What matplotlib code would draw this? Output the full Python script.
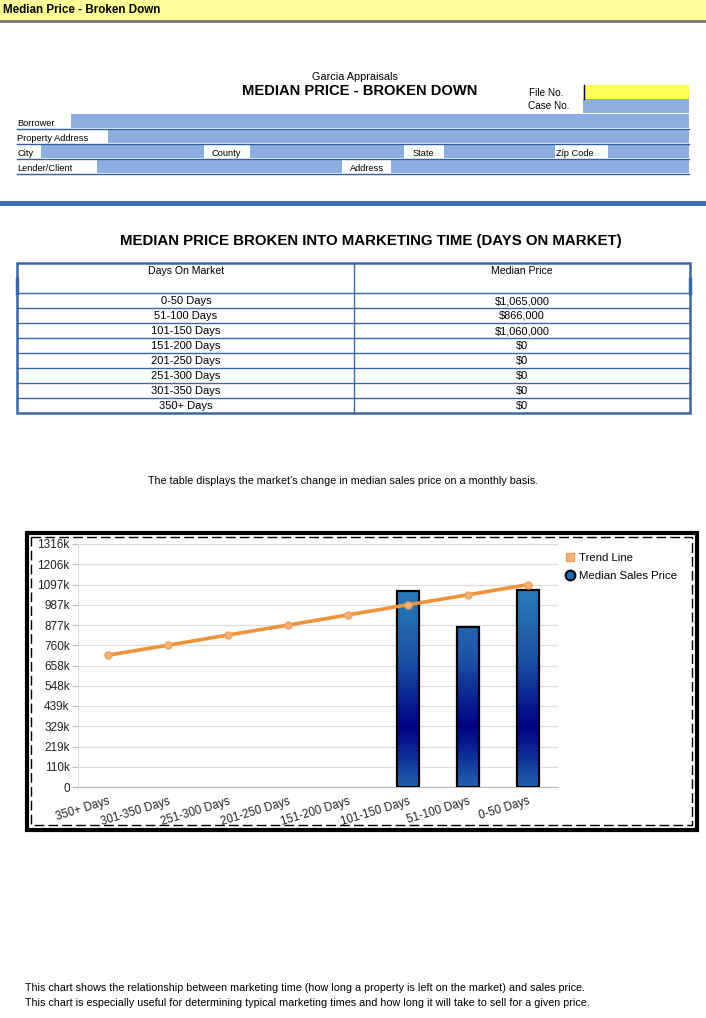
import matplotlib
matplotlib.use('Agg')
import matplotlib.pyplot as plt
import numpy as np
from matplotlib.colors import LinearSegmentedColormap
from matplotlib.patches import Rectangle
from matplotlib.lines import Line2D

plt.rcParams['font.family'] = ['Liberation Sans', 'DejaVu Sans']

# ---- data ----
table_days = ['0-50 Days', '51-100 Days', '101-150 Days', '151-200 Days',
              '201-250 Days', '251-300 Days', '301-350 Days', '350+ Days']
table_price = [1065000, 866000, 1060000, 0, 0, 0, 0, 0]

# chart runs from longest to shortest marketing time
chart_days = table_days[::-1]
chart_price = table_price[::-1]
trend_line = [714000, 768000, 823000, 877000, 932000, 987000, 1041000, 1096000]

y_tick_labels = ['0', '110k', '219k', '329k', '439k', '548k', '658k',
                 '760k', '877k', '987k', '1097k', '1206k', '1316k']
y_max = 1316000

W, H = 706, 1018
BLUE_FILL = '#8cafe0'
LINE_BLUE = '#2f5f9f'

fig = plt.figure(figsize=(W / 100, H / 100), dpi=100)
page = fig.add_axes([0, 0, 1, 1])
page.set_xlim(0, W)
page.set_ylim(H, 0)
page.set_axis_off()


def box(x0, y0, x1, y1, **kw):
    page.add_patch(Rectangle((x0, y0), x1 - x0, y1 - y0, **kw))


# header banner
box(0, 0, W, 20, color='#ffff99', lw=0)
page.plot([0, W], [21, 21], color='#777777', lw=2)
page.text(3, 10, 'Median Price - Broken Down', fontsize=8.4, fontweight='bold',
          va='center', ha='left')

# title block
page.text(355, 77, 'Garcia Appraisals', fontsize=7.8, ha='center', va='center')
page.text(360, 91, 'MEDIAN PRICE - BROKEN DOWN', fontsize=10.6, fontweight='bold',
          ha='center', va='center')
page.text(529, 93, 'File No.', fontsize=7.2, ha='left', va='center')
page.text(528, 106, 'Case No.', fontsize=7.2, ha='left', va='center')
box(583, 85, 689, 99, color='#ffff55', lw=0)
page.plot([583.5, 583.5], [85, 99], color='#000066', lw=1)
box(583, 99, 689, 113, color=BLUE_FILL, lw=0)

# form rows: (label, fill_start, fill_end)
form_rows = [
    [('Borrower', 71, 689)],
    [('Property Address', 108, 689)],
    [('City', 41, 204), ('County', 250, 404), ('State', 444, 555), ('Zip Code', 608, 689)],
    [('Lender/Client', 97, 342), ('Address', 391, 689)],
]
label_x = {'Borrower': 17, 'Property Address': 17, 'City': 17, 'County': 211,
           'State': 413, 'Zip Code': 556, 'Lender/Client': 17, 'Address': 350}
row_top = 114
for row in form_rows:
    for label, fx0, fx1 in row:
        box(fx0, row_top, fx1, row_top + 14, color=BLUE_FILL, lw=0)
        page.text(label_x[label], row_top + 9.5, label, fontsize=6.7,
                  ha='left', va='center')
    page.plot([17, 689], [row_top + 14.5, row_top + 14.5], color=LINE_BLUE, lw=1)
    row_top += 15

page.plot([0, W], [203, 203], color='#3a6db5', lw=3.5)

# table section
page.text(371, 241, 'MEDIAN PRICE BROKEN INTO MARKETING TIME (DAYS ON MARKET)',
          fontsize=10.8, fontweight='bold', ha='center', va='center')
tx0, tx1, tmid = 17, 690, 354
ty0, thead = 263, 293
row_h = 15
box(tx0, ty0, tx1, thead + row_h * len(table_days), fill=False,
    ec='#3a66a6', lw=1.8)
page.plot([tmid, tmid], [ty0, thead + row_h * len(table_days)], color='#3a66a6', lw=1)
page.plot([tx0, tx0], [279, 293], color='#3a66a6', lw=2.5)
page.plot([tx1, tx1], [279, 293], color='#3a66a6', lw=2.5)
page.text(186, 271, 'Days On Market', fontsize=7.6, ha='center', va='center')
page.text(522, 271, 'Median Price', fontsize=7.6, ha='center', va='center')
for i, (d, p) in enumerate(zip(table_days, table_price)):
    y = thead + i * row_h
    page.plot([tx0, tx1], [y, y], color='#3a66a6', lw=1)
    page.text(186, y + 8, d, fontsize=8, ha='center', va='center')
    page.text(522, y + 8, '${:,.0f}'.format(p), fontsize=7.9, ha='center', va='center')

page.text(343, 481, "The table displays the market's change in median sales price on a monthly basis.",
          fontsize=7.75, ha='center', va='center')

# chart frame
box(27, 533, 697, 830, fill=False, ec='black', lw=3)
box(31, 537, 692, 825, fill=False, ec='black', lw=1, ls=(0, (7, 3)))

# bottom notes
page.text(25, 988, 'This chart shows the relationship between marketing time (how long a property '
          'is left on the market) and sales price.', fontsize=7.75, ha='left', va='center')
page.text(25, 1003, 'This chart is especially useful for determining typical marketing times and '
          'how long it will take to sell for a given price.', fontsize=7.75, ha='left', va='center')

# ---- chart ----
ax = fig.add_axes([78 / W, 1 - 787 / H, 480 / W, 243 / H])
x = np.arange(len(chart_days))
ax.set_xlim(-0.5, len(chart_days) - 0.5)
ax.set_ylim(0, y_max)

bars = ax.bar(x, chart_price, width=0.37, facecolor='none', edgecolor='black',
              lw=1.6, zorder=3)
grad = LinearSegmentedColormap.from_list(
    'bar', [(0, '#2262ae'), (0.3, '#000083'), (0.65, '#1c52a4'), (1, '#2a7cba')])
g = np.linspace(0, 1, 256).reshape(-1, 1)
for b in bars:
    if b.get_height() <= 0:
        b.set_edgecolor('none')
        continue
    im = ax.imshow(g, cmap=grad, origin='lower', aspect='auto', zorder=2,
                   extent=[b.get_x(), b.get_x() + b.get_width(), 0, 1065000])
    im.set_clip_path(b)

ax.plot(x, trend_line, color='#f0923a', lw=2.6, marker='o', ms=5,
        mfc='#f6b278', mec='#f0a060', zorder=4)

ax.set_yticks(np.linspace(0, y_max, len(y_tick_labels)))
ax.set_yticklabels(y_tick_labels, fontsize=8.5, color='#222222')
ax.set_xticks(x)
ax.set_xticklabels(chart_days, fontsize=8.3, rotation=17, ha='right',
                   rotation_mode='anchor', color='#222222')
ax.tick_params(axis='y', length=4, color='#bbbbbb', pad=2)
ax.tick_params(axis='x', length=0, pad=6)
ax.grid(axis='y', color='#dddddd', lw=0.9)
ax.set_axisbelow(True)
for s in ['top', 'right']:
    ax.spines[s].set_visible(False)
ax.spines['left'].set_color('#dddddd')
ax.spines['bottom'].set_color('#bbbbbb')

handles = [Line2D([], [], ls='none', marker='s', ms=6, mfc='#f6b278', mec='#f0a060'),
           Line2D([], [], ls='none', marker='o', ms=7, mfc='#1f6bb0', mec='black', mew=1.5)]
fig.legend(handles, ['Trend Line', 'Median Sales Price'], loc='upper left',
           bbox_to_anchor=(553 / W, 1 - 543 / H), frameon=False, fontsize=8.2,
           handletextpad=0.2, labelspacing=0.65, handlelength=1.2)

fig.savefig('out.png', dpi=100)
